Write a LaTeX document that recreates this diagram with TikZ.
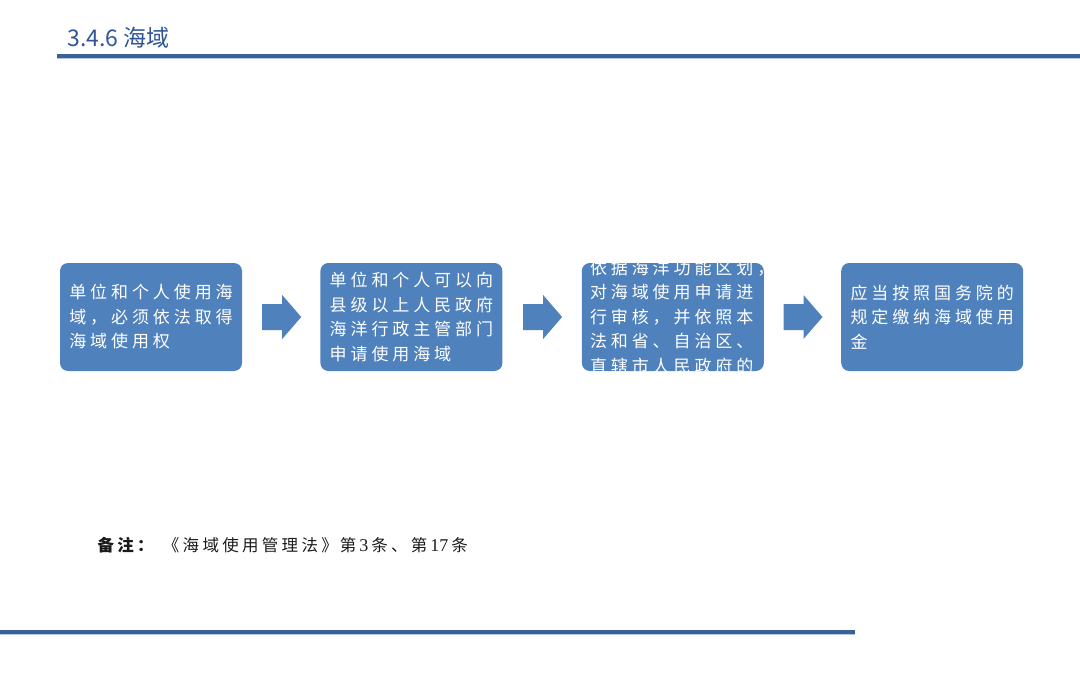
\documentclass[tikz,border=0pt]{standalone}
\usepackage{fontspec}
\setmainfont{Noto Sans CJK SC}
\newfontfamily\seaboxfont[LetterSpace=23]{Noto Sans CJK SC}
\newfontfamily\seanotefont[LetterSpace=20]{Noto Sans CJK SC}
\newfontfamily\seadigitfont{Liberation Serif}
\newcommand\seadigits[1]{\hspace{3pt}{\seadigitfont\fontsize{18pt}{18pt}\selectfont #1}\hspace{3pt}}
\usetikzlibrary{calc,positioning}
\definecolor{seaink}{HTML}{2F5597}
\definecolor{seablue}{HTML}{4F81BD}
\definecolor{searule}{HTML}{3A6096}
\definecolor{seapale}{HTML}{B4C7E7}
\definecolor{seanote}{HTML}{1A1A1A}
\tikzset{
  sea title/.style={font=\fontsize{23pt}{26pt}\selectfont, text=seaink, anchor=west},
  sea rule/.style={draw=searule, line width=3.2pt},
  sea rule shade/.style={draw=seapale, line width=1pt},
  sea box/.style={fill=seablue, rounded corners=8pt, minimum width=182pt,
    minimum height=108pt, inner sep=0pt, text=white, align=left,
    font=\seaboxfont\fontsize{17pt}{24.5pt}\selectfont},
  sea arrow/.style={fill=seablue},
  sea note/.style={font=\seanotefont\fontsize{16.5pt}{18pt}\selectfont, text=seanote, anchor=west}
}

\begin{document}
\begin{tikzpicture}[x=1pt, y=-1pt]
  \useasboundingbox (0,0) rectangle (1080,685);
  % heading and rules
  \node[sea title] (title) at (64,38) {3.4.6 海域};
  \draw[sea rule] (57,56) -- (1080,56);
  \draw[sea rule shade] (57,58.3) -- (1080,58.3);
  \draw[sea rule] (0,632) -- (855,632);
  \draw[sea rule shade] (0,634.3) -- (855,634.3);
  % flow boxes
  \node[sea box] (box1) at (151,317) {单位和个人使用海\\域，必须依法取得\\海域使用权};
  \node[sea box, right=78pt of box1] (box2) {单位和个人可以向\\县级以上人民政府\\海洋行政主管部门\\申请使用海域};
  \node[sea box, right=79pt of box2, path picture={
    \node[anchor=west, inner sep=0pt, text=white, align=left,
      font=\seaboxfont\fontsize{17pt}{24.5pt}\selectfont]
      at ($(path picture bounding box.west)+(8,0)$)
      {依据海洋功能区划，\\对海域使用申请进\\行审核，并依照本\\法和省、自治区、\\直辖市人民政府的};
  }] (box3) {};
  \node[sea box, right=77pt of box3] (box4) {应当按照国务院的\\规定缴纳海域使用\\金};
  % block arrows between boxes
  \foreach \a/\b in {box1/box2, box2/box3, box3/box4} {
    \path ($(\a.east)!0.5!(\b.west)$) coordinate (mid);
    \fill[sea arrow] ($(mid)+(-19,-13)$) -- ($(mid)+(1,-13)$) -- ($(mid)+(1,-22)$)
      -- ($(mid)+(20,0)$) -- ($(mid)+(1,22)$) -- ($(mid)+(1,13)$)
      -- ($(mid)+(-19,13)$) -- cycle;
  }
  % source note
  \node[sea note] (note) at (94,545) {\textbf{备注：}\hspace{6pt}《海域使用管理法》\hspace{2pt}第\seadigits{3}条、第\seadigits{17}条};
\end{tikzpicture}
\end{document}
